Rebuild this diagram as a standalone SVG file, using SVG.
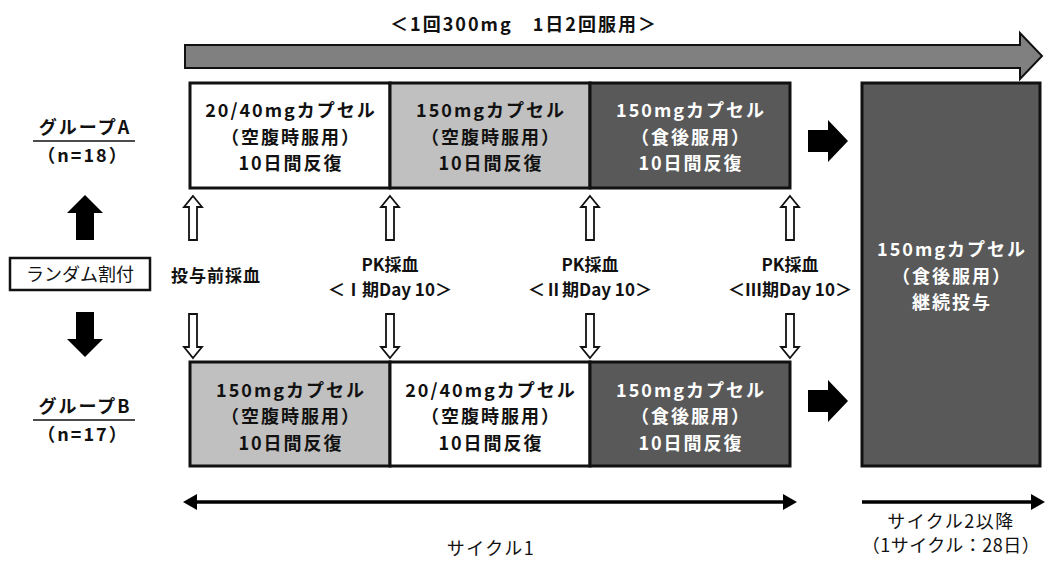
<svg xmlns="http://www.w3.org/2000/svg" width="1045" height="562" viewBox="0 0 1045 562">
<style>
text{font-family:"Noto Sans CJK JP","Noto Sans",sans-serif;text-anchor:middle}
.b{font-weight:bold;font-size:18px;letter-spacing:2px;fill:#111}
.w{font-weight:bold;font-size:18px;letter-spacing:2px;fill:#fff}
.l{font-weight:bold;font-size:17px;fill:#111}
.r{font-size:18px;fill:#111}
.box{stroke:#111;stroke-width:3}
.hol{fill:#fff;stroke:#111;stroke-width:1.8}
</style>
<defs>
<path id="hup" d="M0,0 L9,11 L4,11 L4,44 L-4,44 L-4,11 L-9,11 Z" class="hol"/>
<path id="hdn" d="M0,0 L9,-11 L4,-11 L4,-44 L-4,-44 L-4,-11 L-9,-11 Z" class="hol"/>
<path id="rarr" d="M0,-11 L20,-11 L20,-21 L40,0 L20,21 L20,11 L0,11 Z" fill="#000"/>
</defs>
<g id="title"><text class="b" x="524" y="31" font-size="24" letter-spacing="1.5">＜1回300mg　1日2回服用＞</text></g>
<g id="dosearrow"><path d="M185,45 L1020,45 L1020,33 L1042,56 L1020,79 L1020,68 L185,68 Z" fill="#808080" stroke="#111" stroke-width="2"/></g>
<g id="groupA"><text class="b" x="85" y="134" font-size="20">グループA</text><line x1="33" y1="141" x2="135" y2="141" stroke="#111" stroke-width="1.5"/><text class="b" x="83" y="162" letter-spacing="1">（n=18）</text></g>
<g id="groupB"><text class="b" x="85" y="413" font-size="20">グループB</text><line x1="33" y1="420" x2="135" y2="420" stroke="#111" stroke-width="1.5"/><text class="b" x="83" y="441" letter-spacing="1">（n=17）</text></g>
<g id="random"><rect x="10" y="258" width="140" height="32" fill="#fff" stroke="#111" stroke-width="2.5"/><text class="r" x="80" y="281">ランダム割付</text></g>
<g id="A1"><rect class="box" x="190" y="83" width="200" height="105" fill="#fff"/><text class="b" x="291" y="117">20/40mgカプセル</text><text class="b" x="291" y="143.5">（空腹時服用）</text><text class="b" x="291" y="170">10日間反復</text></g>
<g id="A2"><rect class="box" x="390" y="83" width="200" height="105" fill="#c0c0c0"/><text class="b" x="491" y="117">150mgカプセル</text><text class="b" x="491" y="143.5">（空腹時服用）</text><text class="b" x="491" y="170">10日間反復</text></g>
<g id="A3"><rect class="box" x="590" y="83" width="200" height="105" fill="#595959"/><text class="w" x="691" y="117">150mgカプセル</text><text class="w" x="691" y="143.5">（食後服用）</text><text class="w" x="691" y="170">10日間反復</text></g>
<g id="B1"><rect class="box" x="190" y="362" width="200" height="104" fill="#c0c0c0"/><text class="b" x="291" y="396.5">150mgカプセル</text><text class="b" x="291" y="423">（空腹時服用）</text><text class="b" x="291" y="449.5">10日間反復</text></g>
<g id="B2"><rect class="box" x="390" y="362" width="200" height="104" fill="#fff"/><text class="b" x="491" y="396.5">20/40mgカプセル</text><text class="b" x="491" y="423">（空腹時服用）</text><text class="b" x="491" y="449.5">10日間反復</text></g>
<g id="B3"><rect class="box" x="590" y="362" width="200" height="104" fill="#595959"/><text class="w" x="691" y="396.5">150mgカプセル</text><text class="w" x="691" y="423">（食後服用）</text><text class="w" x="691" y="449.5">10日間反復</text></g>
<g id="cont"><rect class="box" x="862" y="83" width="178" height="383" fill="#595959"/><text class="w" x="952" y="256">150mgカプセル</text><text class="w" x="952" y="282.5">（食後服用）</text><text class="w" x="952" y="309">継続投与</text></g>
<g id="labels">
<text class="l" x="216" y="282" font-size="18" letter-spacing="1">投与前採血</text>
<text class="l" x="390" y="271">PK採血</text><text class="l" x="390" y="296">＜Ⅰ期Day 10＞</text>
<text class="l" x="590" y="271">PK採血</text><text class="l" x="590" y="296">＜Ⅱ期Day 10＞</text>
<text class="l" x="790" y="271">PK採血</text><text class="l" x="790" y="296">＜Ⅲ期Day 10＞</text>
<text class="r" x="491" y="555" font-size="20" letter-spacing="1.5">サイクル1</text>
<text class="r" x="951" y="528" font-size="14" letter-spacing="1.5">サイクル2以降</text>
<text class="r" x="951" y="552" font-size="14" letter-spacing="0.5">（1サイクル：28日）</text>
</g>
<g id="connectors">
<use href="#hup" x="193" y="196"/><use href="#hup" x="390" y="196"/><use href="#hup" x="590" y="196"/><use href="#hup" x="790" y="196"/>
<use href="#hdn" x="193" y="358"/><use href="#hdn" x="390" y="358"/><use href="#hdn" x="590" y="358"/><use href="#hdn" x="790" y="358"/>
<path d="M85,195 L103,213 L94,213 L94,240 L76,240 L76,213 L67,213 Z" fill="#000"/>
<path d="M85,357 L103,339 L94,339 L94,312 L76,312 L76,339 L67,339 Z" fill="#000"/>
<use href="#rarr" x="808" y="141"/><use href="#rarr" x="808" y="401"/>
<line x1="195" y1="502" x2="785" y2="502" stroke="#000" stroke-width="3.5"/>
<path d="M183,502 L197,494 L197,510 Z" fill="#000"/><path d="M797,502 L783,494 L783,510 Z" fill="#000"/>
<line x1="862" y1="502" x2="1033" y2="502" stroke="#000" stroke-width="3.5"/>
<path d="M1045,502 L1031,494 L1031,510 Z" fill="#000"/>
</g>
</svg>
